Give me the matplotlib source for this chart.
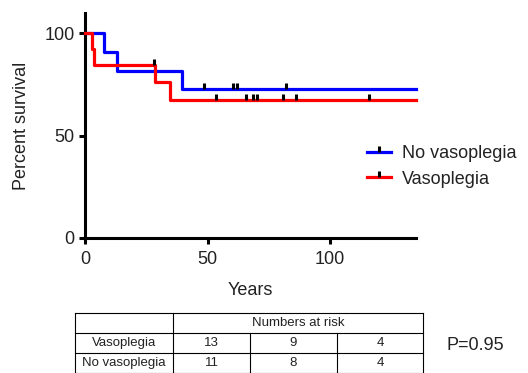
"""
Kaplan-Meier survival, vasoplegia vs no vasoplegia, with numbers-at-risk table.
"""

import matplotlib

matplotlib.use("Agg")
import matplotlib.pyplot as plt
from matplotlib.lines import Line2D
import numpy as np

plt.rcParams["font.family"] = ["Liberation Sans", "DejaVu Sans"]

# step curves (time, percent survival)
no_vaso_t = [0, 7.7, 12.9, 39.6, 135]
no_vaso_s = [100, 90.9, 81.8, 72.7, 72.7]
no_vaso_cens = [48.4, 60.4, 62.0, 82.1]

vaso_t = [0, 2.7, 3.7, 28.6, 34.6, 135]
vaso_s = [100, 92.3, 84.6, 76.2, 67.7, 67.7]
vaso_cens = [28.3, 53.3, 65.5, 68.5, 70.0, 80.7, 85.9, 115.7]

# numbers at risk table
risk_header = "Numbers at risk"
risk_groups = ["Vasoplegia", "No vasoplegia"]
risk_counts = [[13, 9, 4], [11, 8, 4]]
p_text = "P=0.95"

W, H = 528, 373
TXT = "#222222"


def step_value(times, surv, t):
    i = np.searchsorted(times, t, side="right") - 1
    return surv[i]


def main() -> None:
    fig = plt.figure(figsize=(W / 100, H / 100), dpi=100)
    ax = fig.add_axes([85 / W, 1 - 238 / H, (416 - 85) / W, (238 - 13) / H])

    censor_marker = [(0, 0), (0, 1)]
    for t, s, cens, col in [
        (no_vaso_t, no_vaso_s, no_vaso_cens, "#0000ff"),
        (vaso_t, vaso_s, vaso_cens, "#ff0000"),
    ]:
        ax.plot(t, s, drawstyle="steps-post", color=col, lw=2.3,
                clip_on=False, zorder=3)
        cy = [step_value(t, s, c) for c in cens]
        ax.plot(cens, cy, ls="none", marker=censor_marker, ms=9, mew=2.2,
                color="black", clip_on=False, zorder=4)

    ax.set_xlim(0, 135)
    ax.set_ylim(0, 110)
    ax.set_xticks([0, 50, 100])
    ax.set_yticks([0, 50, 100])
    for side in ["top", "right"]:
        ax.spines[side].set_visible(False)
    for side in ["left", "bottom"]:
        ax.spines[side].set_linewidth(2.2)
    ax.tick_params(direction="out", length=4.5, width=2.2, labelsize=13,
                   colors="black", labelcolor=TXT)
    ax.tick_params(axis="x", pad=5)
    ax.tick_params(axis="y", pad=3)
    ax.set_xlabel("Years", fontsize=13, color=TXT, labelpad=10)
    ax.set_ylabel("Percent survival", fontsize=13, color=TXT, labelpad=10)

    handles = [
        Line2D([], [], color="#0000ff", lw=2.3, marker=censor_marker, ms=9,
               mew=2.2, mec="black"),
        Line2D([], [], color="#ff0000", lw=2.3, marker=censor_marker, ms=9,
               mew=2.2, mec="black"),
    ]
    fig.legend(handles, ["No vasoplegia", "Vasoplegia"], loc="center left",
               bbox_to_anchor=(367 / W, 1 - 166.5 / H), frameon=False,
               fontsize=13, borderpad=0, borderaxespad=0, handlelength=1.35,
               handletextpad=0.6, labelspacing=0.45, numpoints=1,
               labelcolor=TXT)

    # numbers at risk table, in pixel coordinates
    tx = [75, 173, 250, 337, 423]
    ty = [313, 333, 353, 373]
    tab = fig.add_axes([tx[0] / W, 0, (tx[-1] - tx[0]) / W, (H - ty[0]) / H])
    tab.set_xlim(tx[0], tx[-1])
    tab.set_ylim(H, ty[0])
    tab.axis("off")
    lw = 0.8
    for y in ty:
        tab.plot([tx[0], tx[-1]], [y, y], color="black", lw=lw, clip_on=False)
    for x in [tx[0], tx[1], tx[-1]]:
        tab.plot([x, x], [ty[0], ty[-1]], color="black", lw=lw, clip_on=False)
    for x in tx[2:4]:
        tab.plot([x, x], [ty[1], ty[-1]], color="black", lw=lw, clip_on=False)
    tab.text((tx[1] + tx[-1]) / 2, (ty[0] + ty[1]) / 2, risk_header,
             ha="center", va="center", fontsize=9.5, color=TXT)
    for r, (grp, counts) in enumerate(zip(risk_groups, risk_counts)):
        yc = (ty[r + 1] + ty[r + 2]) / 2
        tab.text((tx[0] + tx[1]) / 2, yc, grp, ha="center", va="center",
                 fontsize=9.5, color=TXT)
        for c, n in enumerate(counts):
            tab.text((tx[c + 1] + tx[c + 2]) / 2, yc, str(n), ha="center",
                     va="center", fontsize=9.5, color=TXT)

    fig.text(447 / W, 1 - 345 / H, p_text, ha="left", va="center",
             fontsize=13, color=TXT)

    fig.savefig("out.png", dpi=100)
    plt.close(fig)


if __name__ == "__main__":
    main()
